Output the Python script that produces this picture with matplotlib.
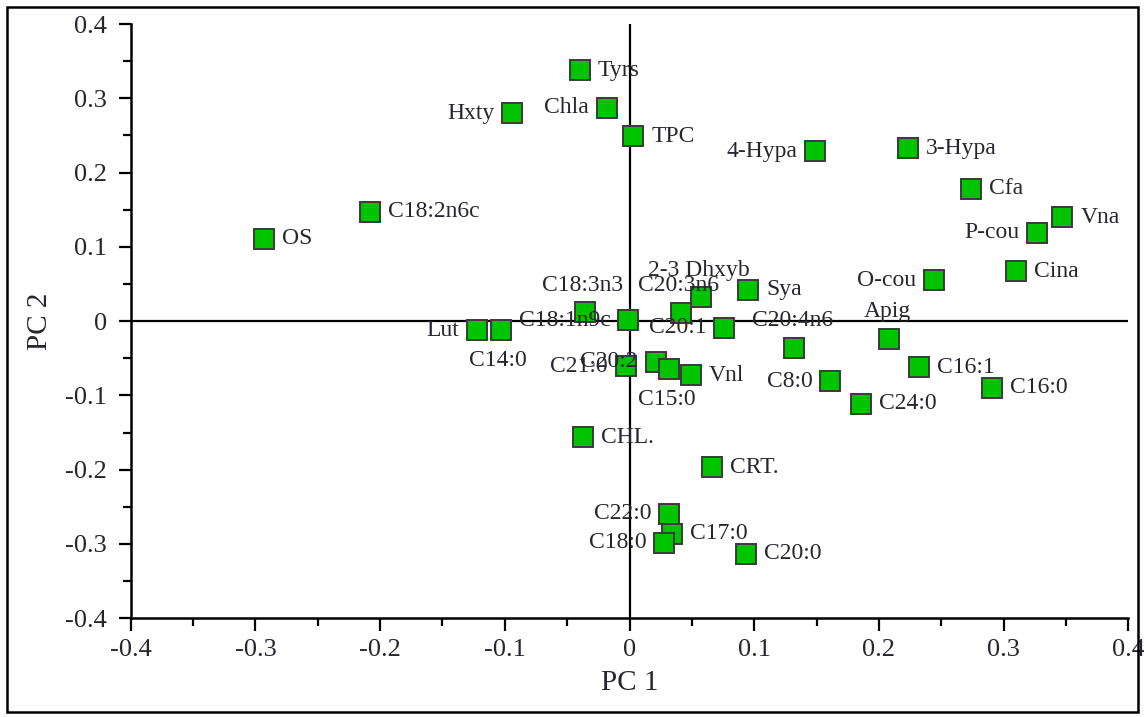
import matplotlib.pyplot as plt
from matplotlib.patches import Rectangle
from matplotlib.ticker import MultipleLocator, FuncFormatter

# PCA loadings (PC 1, PC 2) per compound
names = ['Tyrs', 'Chla', 'Hxty', 'TPC', '4-Hypa', '3-Hypa', 'Cfa', 'Vna',
         'P-cou', 'Cina', 'O-cou', 'C18:2n6c', 'OS', 'Sya', '2-3 Dhxyb',
         'C20:3n6', 'C18:3n3', 'C18:1n9c', 'Lut', 'C14:0', 'C20:1',
         'C20:4n6', 'Apig', 'C8:0', 'C24:0', 'C16:1', 'C16:0', 'C20:2',
         'C21:0', 'C15:0', 'Vnl', 'CHL.', 'CRT.', 'C22:0', 'C17:0',
         'C18:0', 'C20:0']
pc1 = [-0.040, -0.018, -0.094, 0.003, 0.149, 0.223, 0.274, 0.347,
       0.327, 0.310, 0.244, -0.208, -0.293, 0.095, 0.057,
       0.041, -0.036, -0.001, -0.122, -0.103, 0.076,
       0.132, 0.208, 0.161, 0.186, 0.232, 0.291, 0.021,
       -0.003, 0.032, 0.049, -0.037, 0.066, 0.032, 0.034,
       0.028, 0.093]
pc2 = [0.338, 0.287, 0.280, 0.249, 0.229, 0.233, 0.178, 0.140,
       0.119, 0.067, 0.055, 0.147, 0.111, 0.042, 0.032,
       0.011, 0.012, 0.001, -0.012, -0.012, -0.009,
       -0.036, -0.024, -0.081, -0.111, -0.062, -0.090, -0.055,
       -0.061, -0.065, -0.073, -0.156, -0.197, -0.259, -0.286,
       -0.298, -0.313]

# where each label sits relative to its marker: r=right, l=left, t=top, b=below
label_side = ['r', 'l', 'l', 'r', 'l', 'r', 'r', 'r',
              'l', 'r', 'l', 'r', 'r', 'r', 't',
              't', 't', 'l', 'l', 'b', 'l',
              't', 't', 'l', 'r', 'r', 'r', 'l',
              'l', 'b', 'r', 'r', 'r', 'l', 'r',
              'l', 'r']

plt.rcParams['font.family'] = ['Liberation Serif', 'DejaVu Serif']
text_color = '#262630'

fig = plt.figure(figsize=(11.44, 7.17), dpi=100)
ax = fig.add_axes([0.1143, 0.1377, 0.872, 0.8288])

ax.axhline(0, color='black', lw=1.6, zorder=1)
ax.axvline(0, color='black', lw=1.6, zorder=1)

ax.plot(pc1, pc2, linestyle='none', marker='s', markersize=15,
        markerfacecolor='#00c400', markeredgecolor='#3a3a3a',
        markeredgewidth=1.4, zorder=3)

offsets = {'r': ((18, 0), 'left', 'center'),
           'l': ((-18, 0), 'right', 'center'),
           't': ((-2, 27), 'center', 'center'),
           'b': ((-3, -30), 'center', 'center')}
for name, x, y, side in zip(names, pc1, pc2, label_side):
    off, ha, va = offsets[side]
    ax.annotate(name, (x, y), xytext=off, textcoords='offset pixels',
                ha=ha, va=va, fontsize=17, color=text_color, zorder=4)

ax.set_xlim(-0.4, 0.4)
ax.set_ylim(-0.4, 0.4)
ax.xaxis.set_major_locator(MultipleLocator(0.1))
ax.xaxis.set_minor_locator(MultipleLocator(0.05))
ax.yaxis.set_major_locator(MultipleLocator(0.1))
ax.yaxis.set_minor_locator(MultipleLocator(0.05))

fmt = FuncFormatter(lambda v, _: '0' if abs(v) < 1e-9 else f'{v:.1f}')
ax.xaxis.set_major_formatter(fmt)
ax.yaxis.set_major_formatter(fmt)

for side in ['top', 'right']:
    ax.spines[side].set_visible(False)
for side in ['left', 'bottom']:
    ax.spines[side].set_linewidth(1.8)

ax.tick_params(which='major', direction='out', length=9, width=1.6,
               labelsize=19, labelcolor=text_color, pad=6)
ax.tick_params(which='minor', direction='out', length=5.5, width=1.6)
ax.tick_params(axis='y', pad=8)

ax.set_xlabel('PC 1', fontsize=21, color=text_color, va='center')
ax.set_ylabel('PC 2', fontsize=21, color=text_color, va='center')
ax.xaxis.set_label_coords(0.5, -0.109)
ax.yaxis.set_label_coords(-0.091, 0.5)

# outer border around the whole figure
fig.patches.append(Rectangle((7 / 1144, 5 / 717), 1131 / 1144, 705 / 717,
                             transform=fig.transFigure, fill=False,
                             edgecolor='black', linewidth=1.8))

plt.savefig('out.png', dpi=100)
